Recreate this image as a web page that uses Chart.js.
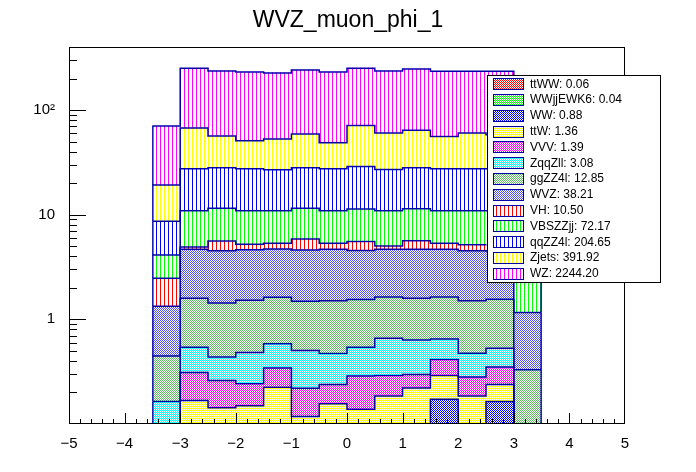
<!DOCTYPE html>
<html>
<head>
<meta charset="utf-8">
<script src="https://cdn.jsdelivr.net/npm/chart.js@4.4.0/dist/chart.umd.min.js"></script>
<style>
  html, body { margin: 0; padding: 0; background: #fff; }
  #wrap { width: 696px; height: 472px; }
</style>
</head>
<body>
<div id="wrap"><canvas id="phiChart"></canvas></div>
<script>
// bin edges of the muon phi histogram
const binEdges = [-3.5, -3.0, -2.5, -2.0, -1.5, -1.0, -0.5, 0.0, 0.5, 1.0, 1.5, 2.0, 2.5, 3.0, 3.5];

// per-bin yields, stack order bottom -> top
const ttWW     = [0.002, 0.005, 0.005, 0.004, 0.005, 0.005, 0.004, 0.005, 0.005, 0.004, 0.005, 0.005, 0.005, 0.002];
const WWjjEWK6 = [0.002, 0.003, 0.003, 0.003, 0.003, 0.003, 0.003, 0.003, 0.003, 0.003, 0.003, 0.003, 0.003, 0.002];
const WW       = [0.02, 0.05, 0.05, 0.05, 0.05, 0.05, 0.05, 0.05, 0.05, 0.05, 0.164, 0.05, 0.156, 0.02];
const ttW      = [0.02, 0.110, 0.085, 0.092, 0.167, 0.060, 0.099, 0.080, 0.127, 0.164, 0.119, 0.127, 0.075, 0.02];
const VVV      = [0.02, 0.143, 0.118, 0.094, 0.117, 0.101, 0.082, 0.149, 0.106, 0.076, 0.123, 0.096, 0.111, 0.01];
const ZqqZll   = [0.10, 0.229, 0.175, 0.239, 0.242, 0.286, 0.234, 0.253, 0.367, 0.336, 0.234, 0.192, 0.178, 0.02];
const ggZZ4l   = [0.282, 1.05, 0.994, 1.04, 1.04, 0.985, 1.03, 1.01, 0.98, 0.956, 0.99, 1.03, 1.03, 0.256];
const WVZ      = [0.89, 3.08, 3.10, 3.11, 3.08, 3.11, 3.17, 3.00, 3.03, 3.08, 3.03, 3.03, 2.94, 0.83];
const VH       = [1.14, 0.23, 1.07, 0.59, 0.64, 1.25, 0.67, 1.00, 0.35, 0.98, 0.67, 0.62, 0.70, 0.0];
const VBSZZjj  = [1.65, 6.0, 5.9, 5.68, 5.56, 5.65, 5.56, 5.75, 5.88, 5.75, 5.56, 5.75, 5.70, 1.9];
const qqZZ4l   = [4.55, 16.5, 16.5, 16.5, 15.9, 16.5, 16.5, 17.6, 16.1, 16.7, 16.5, 16.5, 16.6, 4.0];
const Zjets    = [10.5, 39.9, 28.4, 23.5, 26.0, 30.9, 21.2, 42.4, 33.2, 35.9, 28.5, 32.8, 30.5, 10.0];
const WZ       = [51.1, 182.7, 179.6, 180.1, 173.2, 182.1, 182.4, 179.7, 175.8, 182.0, 178.1, 173.8, 176.0, 47.0];

const sampleNames  = ['ttWW', 'WWjjEWK6', 'WW', 'ttW', 'VVV', 'ZqqZll', 'ggZZ4l', 'WVZ', 'VH', 'VBSZZjj', 'qqZZ4l', 'Zjets', 'WZ'];
const sampleYields = ['0.06', '0.04', '0.88', '1.36', '1.39', '3.08', '12.85', '38.21', '10.50', '72.17', '204.65', '391.92', '2244.20'];
const sampleColors = ['#ff0000', '#00ff00', '#0000ff', '#ffff00', '#ff00ff', '#00ffff', '#5cb85c', '#5050e8',
                      '#ff0000', '#00ff00', '#0000ff', '#ffff00', '#ff00ff'];
const sampleHatch  = ['dots', 'dots', 'dots', 'dots', 'dots', 'dots', 'dots', 'dots',
                      'vlines', 'vlines', 'vlines', 'vlines', 'vlines'];

const xTickValues = [-5, -4, -3, -2, -1, 0, 1, 2, 3, 4, 5];
const yTickValues = [1, 10, 100];
const yTickLabels = ['1', '10', '10\u00b2'];

const series = [ttWW, WWjjEWK6, WW, ttW, VVV, ZqqZll, ggZZ4l, WVZ, VH, VBSZZjj, qqZZ4l, Zjets, WZ];
const outline = '#0000a8';
const font = '"Liberation Sans", Arial, Helvetica, sans-serif';

function makePattern(color, kind) {
    const c = document.createElement('canvas');
    if (kind === 'dots') {
        c.width = 2; c.height = 2;
    } else {
        c.width = 4; c.height = 1;
    }
    const g = c.getContext('2d');
    g.fillStyle = '#fff';
    g.fillRect(0, 0, c.width, c.height);
    g.fillStyle = color;
    g.fillRect(0, 0, 1, 1);
    if (kind === 'dots') g.fillRect(1, 1, 1, 1);
    return g.createPattern(c, 'repeat');
}
const patterns = sampleColors.map((col, k) => makePattern(col, sampleHatch[k]));

const centers = binEdges.slice(0, -1).map((e, i) => (e + binEdges[i + 1]) / 2);
const nBins = centers.length;

const datasets = [];
// filled stack
series.forEach((vals, k) => {
    datasets.push({
        type: 'bar',
        label: sampleNames[k],
        stack: 'fill',
        order: 1,
        data: vals.map((v, i) => ({ x: centers[i], y: v })),
        backgroundColor: patterns[k],
        borderColor: outline,
        borderSkipped: false,
        borderWidth: (c) => ({
            top: 0, bottom: 0,
            left: c.dataIndex === 0 ? 1.5 : 0,
            right: c.dataIndex === nBins - 1 ? 1.5 : 0
        }),
        barPercentage: 1,
        categoryPercentage: 1
    });
});
// step outlines of the same stack
series.forEach((vals, k) => {
    datasets.push({
        type: 'line',
        label: sampleNames[k] + '_line',
        stack: 'outline',
        order: 0,
        data: binEdges.map((e, i) => ({ x: e, y: vals[Math.min(i, nBins - 1)] })),
        stepped: 'before',
        borderColor: outline,
        borderWidth: 1.5,
        pointRadius: 0,
        fill: false
    });
});

const frameAndTicks = {
    id: 'frameAndTicks',
    afterDatasetsDraw(chart) {
        const { ctx, chartArea: a, scales: { x, y } } = chart;
        ctx.save();
        ctx.strokeStyle = '#000';
        ctx.lineWidth = 1;
        ctx.beginPath();
        for (let i = 1; i < 50; i++) {
            const px = Math.round(x.getPixelForValue(-5 + i * 0.2)) + 0.5;
            const len = i % 5 === 0 ? 11 : 5;
            ctx.moveTo(px, a.bottom);
            ctx.lineTo(px, a.bottom - len);
        }
        for (let d = -1; d <= 2; d++) {
            for (let m = 1; m <= 9; m++) {
                const v = m * Math.pow(10, d);
                if (v <= y.min || v >= y.max) continue;
                const py = Math.round(y.getPixelForValue(v)) + 0.5;
                const len = m === 1 ? 17 : 8;
                ctx.moveTo(a.left, py);
                ctx.lineTo(a.left + len, py);
            }
        }
        ctx.stroke();
        ctx.strokeRect(a.left + 0.5, a.top + 0.5, a.right - a.left - 1, a.bottom - a.top - 1);
        ctx.restore();
    },
    afterDraw(chart) {
        const ctx = chart.ctx;
        ctx.save();
        // title
        ctx.fillStyle = '#000';
        ctx.font = '23px ' + font;
        ctx.textAlign = 'center';
        ctx.textBaseline = 'alphabetic';
        ctx.fillText('WVZ_muon_phi_1', 348, 27);
        // legend box
        const bx = 487.5, by = 75.5, bw = 173, bh = 207;
        ctx.fillStyle = '#fff';
        ctx.fillRect(bx, by, bw, bh);
        ctx.strokeStyle = '#000';
        ctx.lineWidth = 1;
        ctx.strokeRect(bx, by, bw, bh);
        ctx.font = '12px ' + font;
        ctx.textAlign = 'left';
        ctx.textBaseline = 'middle';
        sampleNames.forEach((name, k) => {
            const cy = 83.7 + k * 15.8;
            ctx.fillStyle = patterns[k];
            ctx.fillRect(493.5, Math.round(cy - 5.5) + 0.5, 30, 11);
            ctx.strokeStyle = outline;
            ctx.strokeRect(493.5, Math.round(cy - 5.5) + 0.5, 30, 11);
            ctx.fillStyle = '#000';
            ctx.fillText(name + ': ' + sampleYields[k], 530, cy + 0.5);
        });
        ctx.restore();
    }
};

new Chart(document.getElementById('phiChart'), {
    type: 'bar',
    data: { datasets: datasets },
    plugins: [frameAndTicks],
    options: {
        responsive: true,
        maintainAspectRatio: false,
        devicePixelRatio: 1,
        animation: false,
        events: [],
        layout: { padding: { left: 0, right: 71, top: 47, bottom: 0 } },
        plugins: {
            legend: { display: false },
            title: { display: false },
            tooltip: { enabled: false }
        },
        scales: {
            x: {
                type: 'linear',
                min: -5,
                max: 5,
                offset: false,
                stacked: true,
                grid: { display: false, offset: false },
                border: { display: false },
                afterFit: (s) => { s.height = 48; },
                afterBuildTicks: (s) => { s.ticks = xTickValues.map(v => ({ value: v })); },
                ticks: {
                    autoSkip: false,
                    maxRotation: 0,
                    padding: 3,
                    color: '#000',
                    font: { family: font, size: 15 },
                    callback: (v) => String(v).replace('-', '\u2212')
                }
            },
            y: {
                type: 'logarithmic',
                min: 0.1,
                max: 400,
                stacked: true,
                grid: { display: false },
                border: { display: false },
                afterFit: (s) => { s.width = 69; },
                afterBuildTicks: (s) => { s.ticks = yTickValues.map(v => ({ value: v })); },
                ticks: {
                    padding: 6,
                    color: '#000',
                    font: { family: font, size: 15 },
                    callback: (v) => yTickLabels[yTickValues.indexOf(v)]
                }
            }
        }
    }
});
</script>
</body>
</html>
